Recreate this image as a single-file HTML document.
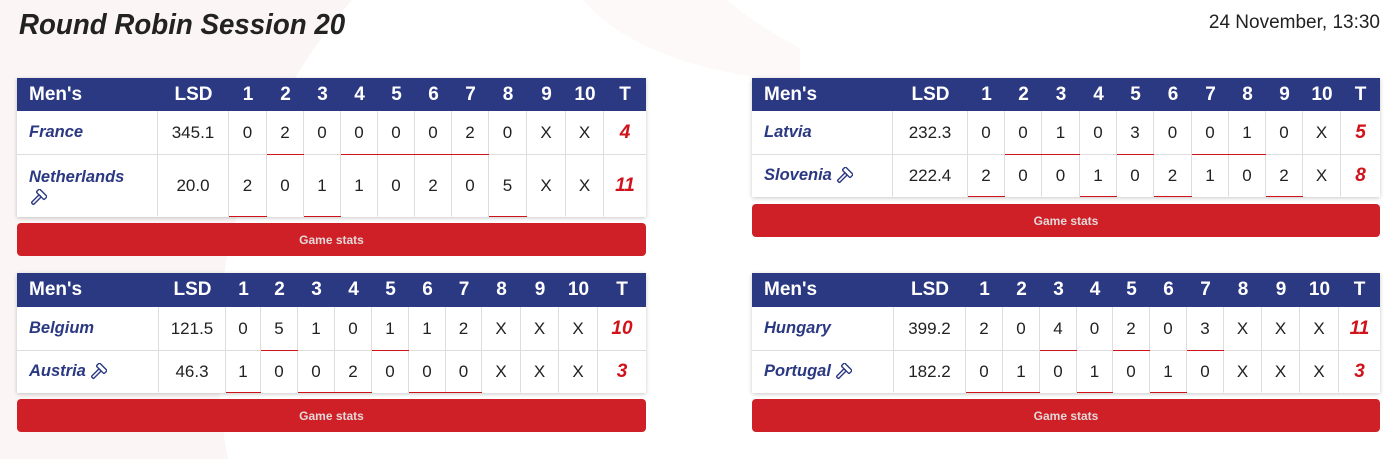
<!DOCTYPE html>
<html><head><meta charset="utf-8">
<style>
html,body{margin:0;padding:0;background:#fff;}
body{width:1395px;height:459px;position:relative;overflow:hidden;font-family:"Liberation Sans",sans-serif;}
.title{position:absolute;left:19px;top:11px;font-size:29px;line-height:29px;font-weight:bold;font-style:italic;color:#222;white-space:nowrap;transform:scaleX(0.955);transform-origin:0 0;}
.date{position:absolute;right:15px;top:13px;font-size:19px;line-height:19px;color:#222;white-space:nowrap;}
.tb{position:absolute;display:grid;background:#fff;box-shadow:0 1px 4px rgba(0,0,0,.22);}
.tb>div{display:flex;align-items:center;justify-content:center;box-sizing:border-box;white-space:nowrap;position:relative;}
.h{background:#2b3882;color:#fff;font-weight:bold;font-size:19px;}
.h.n{justify-content:flex-start;padding-left:12px;}
.c{font-size:17px;color:#222;border-right:1px solid #ddd;}
.r1{border-bottom:1px solid #ddd;}
.r2{border-bottom:1px solid #fff;}
.tb>div.hm::after{content:"";position:absolute;left:0;right:-1px;bottom:-1px;height:1px;background:#d0121b;z-index:2;}
.tb>div.nm{justify-content:flex-start;padding-left:12px;font-weight:bold;font-style:italic;color:#2b3882;font-size:16.5px;}
.tb>div.nm2{flex-direction:column;align-items:flex-start;justify-content:center;line-height:24px;}
.tb>div.t{font-weight:bold;font-style:italic;color:#d0121b;font-size:19px;border-right:none;}
.hi{display:inline-block;vertical-align:middle;margin-left:3px;}
.btn{position:absolute;height:33px;background:#cf2027;border-radius:4px;color:#e4d8d8;font-weight:bold;font-size:12px;display:flex;align-items:center;justify-content:center;}
</style></head>
<body>
<svg width="1395" height="459" style="position:absolute;left:0;top:0">
<path d="M0,0 H352 A538,538 0 0 0 228,459 H0 Z" fill="#fbf5f5"/>
<path d="M583,0 C620,45 700,75 800,82 L800,48 C770,32 745,16 727,0 Z" fill="#fdf9f9"/>
</svg>

<div class="title">Round Robin Session 20</div>
<div class="date">24 November, 13:30</div>

<!-- Table 1 -->
<div class="tb" style="left:17px;top:78px;width:629px;grid-template-columns:141px 71px 38px 37px 37px 37px 37px 37px 37px 38px 39px 38px 42px;grid-template-rows:33px 44px 62px;">
<div class="h n">Men's</div><div class="h">LSD</div><div class="h">1</div><div class="h">2</div><div class="h">3</div><div class="h">4</div><div class="h">5</div><div class="h">6</div><div class="h">7</div><div class="h">8</div><div class="h">9</div><div class="h">10</div><div class="h">T</div>
<div class="c r1 nm">France</div><div class="c r1">345.1</div><div class="c r1">0</div><div class="c r1 hm">2</div><div class="c r1">0</div><div class="c r1 hm">0</div><div class="c r1 hm">0</div><div class="c r1 hm">0</div><div class="c r1 hm">2</div><div class="c r1">0</div><div class="c r1">X</div><div class="c r1">X</div><div class="c r1 t">4</div>
<div class="c r2 nm nm2"><span>Netherlands</span><svg class="hi" style="margin-left:0" width="18" height="18" viewBox="0 0 18 18"><g transform="rotate(45 9 9)" fill="none" stroke="#2b3882" stroke-width="1.4"><rect x="7.5" y="6" width="3" height="11" rx="1"/><rect x="3.5" y="1.5" width="11" height="4.5" rx="1"/></g></svg></div><div class="c r2">20.0</div><div class="c r2 hm">2</div><div class="c r2">0</div><div class="c r2 hm">1</div><div class="c r2">1</div><div class="c r2">0</div><div class="c r2">2</div><div class="c r2">0</div><div class="c r2 hm">5</div><div class="c r2">X</div><div class="c r2">X</div><div class="c r2 t">11</div>
</div>
<div class="btn" style="left:17px;top:223px;width:629px;">Game stats</div>

<!-- Table 2 -->
<div class="tb" style="left:752px;top:78px;width:628px;grid-template-columns:141px 75px 37px 37px 38px 37px 37px 38px 37px 37px 37px 38px 39px;grid-template-rows:33px 44px 42px;">
<div class="h n">Men's</div><div class="h">LSD</div><div class="h">1</div><div class="h">2</div><div class="h">3</div><div class="h">4</div><div class="h">5</div><div class="h">6</div><div class="h">7</div><div class="h">8</div><div class="h">9</div><div class="h">10</div><div class="h">T</div>
<div class="c r1 nm">Latvia</div><div class="c r1">232.3</div><div class="c r1">0</div><div class="c r1 hm">0</div><div class="c r1 hm">1</div><div class="c r1">0</div><div class="c r1 hm">3</div><div class="c r1">0</div><div class="c r1 hm">0</div><div class="c r1 hm">1</div><div class="c r1">0</div><div class="c r1">X</div><div class="c r1 t">5</div>
<div class="c r2 nm">Slovenia<svg class="hi" width="18" height="18" viewBox="0 0 18 18"><g transform="rotate(45 9 9)" fill="none" stroke="#2b3882" stroke-width="1.4"><rect x="7.5" y="6" width="3" height="11" rx="1"/><rect x="3.5" y="1.5" width="11" height="4.5" rx="1"/></g></svg></div><div class="c r2">222.4</div><div class="c r2 hm">2</div><div class="c r2">0</div><div class="c r2">0</div><div class="c r2 hm">1</div><div class="c r2">0</div><div class="c r2 hm">2</div><div class="c r2">1</div><div class="c r2">0</div><div class="c r2 hm">2</div><div class="c r2">X</div><div class="c r2 t">8</div>
</div>
<div class="btn" style="left:752px;top:204px;width:628px;">Game stats</div>

<!-- Table 3 -->
<div class="tb" style="left:17px;top:273px;width:629px;grid-template-columns:142px 67px 35px 37px 37px 37px 37px 37px 36px 39px 38px 39px 48px;grid-template-rows:34px 44px 42px;">
<div class="h n">Men's</div><div class="h">LSD</div><div class="h">1</div><div class="h">2</div><div class="h">3</div><div class="h">4</div><div class="h">5</div><div class="h">6</div><div class="h">7</div><div class="h">8</div><div class="h">9</div><div class="h">10</div><div class="h">T</div>
<div class="c r1 nm">Belgium</div><div class="c r1">121.5</div><div class="c r1">0</div><div class="c r1 hm">5</div><div class="c r1">1</div><div class="c r1">0</div><div class="c r1 hm">1</div><div class="c r1">1</div><div class="c r1">2</div><div class="c r1">X</div><div class="c r1">X</div><div class="c r1">X</div><div class="c r1 t">10</div>
<div class="c r2 nm">Austria<svg class="hi" width="18" height="18" viewBox="0 0 18 18"><g transform="rotate(45 9 9)" fill="none" stroke="#2b3882" stroke-width="1.4"><rect x="7.5" y="6" width="3" height="11" rx="1"/><rect x="3.5" y="1.5" width="11" height="4.5" rx="1"/></g></svg></div><div class="c r2">46.3</div><div class="c r2 hm">1</div><div class="c r2">0</div><div class="c r2 hm">0</div><div class="c r2 hm">2</div><div class="c r2">0</div><div class="c r2 hm">0</div><div class="c r2 hm">0</div><div class="c r2">X</div><div class="c r2">X</div><div class="c r2">X</div><div class="c r2 t">3</div>
</div>
<div class="btn" style="left:17px;top:399px;width:629px;">Game stats</div>

<!-- Table 4 -->
<div class="tb" style="left:752px;top:273px;width:628px;grid-template-columns:142px 72px 37px 37px 37px 36px 37px 37px 37px 38px 38px 39px 41px;grid-template-rows:34px 44px 42px;">
<div class="h n">Men's</div><div class="h">LSD</div><div class="h">1</div><div class="h">2</div><div class="h">3</div><div class="h">4</div><div class="h">5</div><div class="h">6</div><div class="h">7</div><div class="h">8</div><div class="h">9</div><div class="h">10</div><div class="h">T</div>
<div class="c r1 nm">Hungary</div><div class="c r1">399.2</div><div class="c r1">2</div><div class="c r1">0</div><div class="c r1 hm">4</div><div class="c r1">0</div><div class="c r1 hm">2</div><div class="c r1">0</div><div class="c r1 hm">3</div><div class="c r1">X</div><div class="c r1">X</div><div class="c r1">X</div><div class="c r1 t">11</div>
<div class="c r2 nm">Portugal<svg class="hi" width="18" height="18" viewBox="0 0 18 18"><g transform="rotate(45 9 9)" fill="none" stroke="#2b3882" stroke-width="1.4"><rect x="7.5" y="6" width="3" height="11" rx="1"/><rect x="3.5" y="1.5" width="11" height="4.5" rx="1"/></g></svg></div><div class="c r2">182.2</div><div class="c r2 hm">0</div><div class="c r2 hm">1</div><div class="c r2">0</div><div class="c r2 hm">1</div><div class="c r2">0</div><div class="c r2 hm">1</div><div class="c r2">0</div><div class="c r2">X</div><div class="c r2">X</div><div class="c r2">X</div><div class="c r2 t">3</div>
</div>
<div class="btn" style="left:752px;top:399px;width:628px;">Game stats</div>

</body></html>
